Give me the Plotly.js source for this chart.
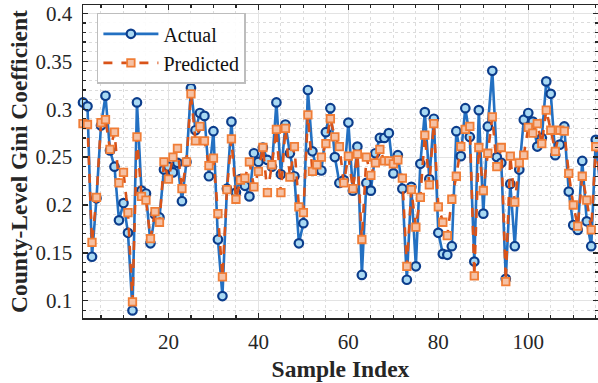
<!DOCTYPE html>
<html>
<head>
<meta charset="utf-8">
<script src="https://cdn.plot.ly/plotly-3.0.1.min.js"></script>
<style>html,body{margin:0;padding:0;background:#fff;}#chart{width:598px;height:383px;}</style>
</head>
<body>
<div id="chart"></div>
<script>
// Sample indices 1..116
const sampleIndex = [
  1,2,3,4,5,6,7,8,9,10,11,12,13,14,15,16,17,18,19,20,
  21,22,23,24,25,26,27,28,29,30,31,32,33,34,35,36,37,38,39,40,
  41,42,43,44,45,46,47,48,49,50,51,52,53,54,55,56,57,58,59,60,
  61,62,63,64,65,66,67,68,69,70,71,72,73,74,75,76,77,78,79,80,
  81,82,83,84,85,86,87,88,89,90,91,92,93,94,95,96,97,98,99,100,
  101,102,103,104,105,106,107,108,109,110,111,112,113,114,115,116
];

const actual = [
  0.307,0.303,0.146,0.207,0.283,0.314,0.257,0.240,0.184,0.202,
  0.171,0.090,0.307,0.215,0.212,0.160,0.190,0.187,0.237,0.240,
  0.234,0.244,0.204,0.245,0.322,0.278,0.296,0.293,0.230,0.277,
  0.164,0.105,0.217,0.287,0.213,0.227,0.220,0.209,0.254,0.245,
  0.260,0.247,0.240,0.307,0.232,0.284,0.254,0.230,0.160,0.181,
  0.320,0.256,0.237,0.236,0.276,0.301,0.250,0.223,0.226,0.286,
  0.215,0.261,0.127,0.223,0.215,0.254,0.270,0.270,0.275,0.233,
  0.252,0.217,0.122,0.219,0.136,0.243,0.297,0.227,0.290,0.171,
  0.149,0.148,0.157,0.277,0.251,0.301,0.271,0.141,0.299,0.191,
  0.282,0.340,0.250,0.244,0.123,0.222,0.157,0.237,0.289,0.296,
  0.287,0.261,0.270,0.329,0.316,0.252,0.263,0.282,0.214,0.179,
  0.174,0.246,0.183,0.157,0.268,0.219
];

const predicted = [
  0.285,0.284,0.161,0.208,0.286,0.289,0.258,0.276,0.223,0.234,
  0.192,0.099,0.271,0.209,0.205,0.165,0.193,0.182,0.245,0.227,
  0.250,0.259,0.217,0.245,0.316,0.267,0.282,0.267,0.241,0.249,
  0.191,0.125,0.216,0.269,0.206,0.226,0.228,0.245,0.219,0.235,
  0.260,0.213,0.242,0.279,0.213,0.280,0.229,0.261,0.198,0.192,
  0.294,0.235,0.242,0.250,0.264,0.290,0.271,0.261,0.223,0.251,
  0.217,0.253,0.164,0.250,0.231,0.244,0.258,0.246,0.246,0.243,
  0.247,0.228,0.136,0.216,0.177,0.208,0.273,0.221,0.285,0.198,
  0.182,0.168,0.206,0.230,0.261,0.279,0.282,0.126,0.260,0.215,
  0.254,0.292,0.240,0.260,0.120,0.251,0.203,0.244,0.252,0.281,
  0.275,0.285,0.264,0.299,0.278,0.256,0.278,0.277,0.233,0.200,
  0.178,0.230,0.205,0.174,0.261,0.225
];

const seriesNames = ['Actual', 'Predicted'];
const yTickVals = [0.1, 0.15, 0.2, 0.25, 0.3, 0.35, 0.4];
const yTickText = ['0.1', '0.15', '0.2', '0.25', '0.3', '0.35', '0.4'];
const xTickVals = [20, 40, 60, 80, 100];
const xTickText = ['20', '40', '60', '80', '100'];

const serif = 'Liberation Serif, Times New Roman, serif';

const traces = [
  {
    x: sampleIndex, y: actual, name: seriesNames[0],
    type: 'scatter', mode: 'lines+markers', cliponaxis: false,
    line: {color: '#2370c2', width: 2.6},
    marker: {symbol: 'circle', size: 8.5, color: '#a9d9f3', line: {color: '#0c3d8c', width: 2.2}}
  },
  {
    x: sampleIndex, y: predicted, name: seriesNames[1],
    type: 'scatter', mode: 'lines+markers', cliponaxis: false,
    line: {color: '#d95319', width: 2.6, dash: 'dash'},
    marker: {symbol: 'square', size: 7.5, color: '#f5c1a4', line: {color: '#f07d36', width: 1.8}}
  }
];

const layout = {
  width: 598, height: 383,
  margin: {l: 83, r: 0, t: 5, b: 65},
  paper_bgcolor: '#ffffff', plot_bgcolor: '#ffffff',
  font: {family: serif, size: 21, color: '#262626'},
  showlegend: true,
  legend: {
    x: 0.027, y: 0.975, xanchor: 'left', yanchor: 'top',
    bgcolor: 'rgba(255,255,255,0.9)', bordercolor: '#bdbdbd', borderwidth: 1.5,
    font: {family: serif, size: 20, color: '#111'},
    itemwidth: 55, tracegroupgap: 0
  },
  xaxis: {
    range: [1, 115.5], autorange: false,
    tickvals: xTickVals, ticktext: xTickText,
    ticks: 'inside', ticklen: 5, tickwidth: 1.2, tickcolor: '#262626',
    showline: true, linecolor: '#262626', linewidth: 1.5, mirror: 'ticks',
    showgrid: true, gridcolor: '#e3e3e3', gridwidth: 1,
    zeroline: false,
    minor: {dtick: 5, tick0: 0, ticks: 'inside', ticklen: 3, tickcolor: '#262626', showgrid: true, gridcolor: '#dcdcdc', griddash: 'dot', gridwidth: 1},
    tickfont: {family: serif, size: 21, color: '#262626'},
    ticklabelstandoff: 4,
    title: {text: 'Sample Index', font: {family: serif, size: 23.5, color: '#262626', weight: 'bold'}, standoff: 8},
    automargin: false
  },
  yaxis: {
    range: [0.0821, 0.4087], autorange: false,
    tickvals: yTickVals, ticktext: yTickText,
    ticks: 'inside', ticklen: 5, tickwidth: 1.2, tickcolor: '#262626',
    showline: true, linecolor: '#262626', linewidth: 1.5, mirror: 'ticks',
    showgrid: true, gridcolor: '#e3e3e3', gridwidth: 1,
    zeroline: false,
    minor: {dtick: 0.01, tick0: 0, ticks: 'inside', ticklen: 3, tickcolor: '#262626', showgrid: true, gridcolor: '#dcdcdc', griddash: 'dot', gridwidth: 1},
    tickfont: {family: serif, size: 21, color: '#262626'},
    ticklabelstandoff: 5,
    title: {text: 'County-Level Gini Coefficient', font: {family: serif, size: 23.5, color: '#262626', weight: 'bold'}, standoff: 1},
    automargin: false
  }
};

Plotly.newPlot('chart', traces, layout, {displayModeBar: false, staticPlot: true});
</script>
</body>
</html>
